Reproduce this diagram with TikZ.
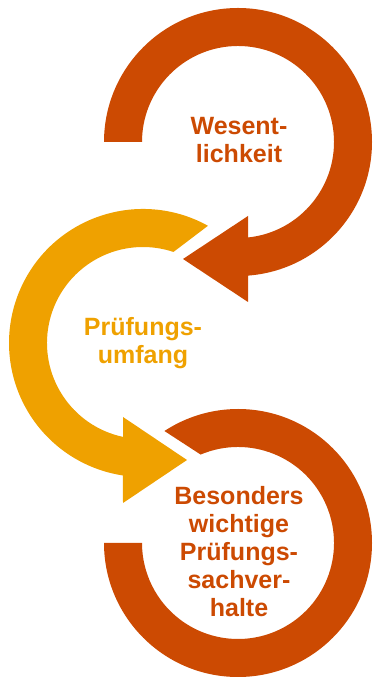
\documentclass[tikz,border=0pt]{standalone}
\usepackage{fontspec}
\setmainfont{Liberation Sans}
\definecolor{rostrot}{RGB}{204,74,2}
\definecolor{ocker}{RGB}{239,161,0}
\tikzset{etikett/.style={font=\fontsize{25}{28}\selectfont\bfseries, align=center, inner sep=0pt}}
\begin{document}
\begin{tikzpicture}[x=1pt, y=1pt]
                \useasboundingbox (0, 0) rectangle (372, 677);
                \begin{scope}[shift={(238, 535)}]
                \fill (180:134) arc[start angle=180, end angle=-85.7, radius=134]--(10, -160)--(-55, -117)--(10, -74)--(-84:96) arc[start angle=-84, end angle=180, radius=96]--cycle [rostrot];
                \node[etikett, text=rostrot] (wesen) at (1, 2) {Wesent-\\lichkeit};
                \end{scope}
                \begin{scope}[shift={(143, 334)}]
                \fill (61:134) arc[start angle=61, end angle=261.4, radius=134]--(-20, -160)--(44, -117)--(-20, -74)--(258:96) arc[start angle=258, end angle=71.5, radius=96]--cycle [ocker];
                \node[etikett, text=ocker] (umfang) at (0, 0) {Prüfungs-\\umfang};
                \end{scope}
                \begin{scope}[shift={(238, 134)}]
                \fill (180:134) arc[start angle=180, end angle=483.3, radius=134]--(472.9:96) arc[start angle=472.9, end angle=180, radius=96]--cycle [rostrot];
                \node[etikett, text=rostrot] (sachv) at (1, -9) {Besonders\\wichtige\\Prüfungs-\\sachver-\\halte};
                \end{scope}
            \end{tikzpicture}
\end{document}
